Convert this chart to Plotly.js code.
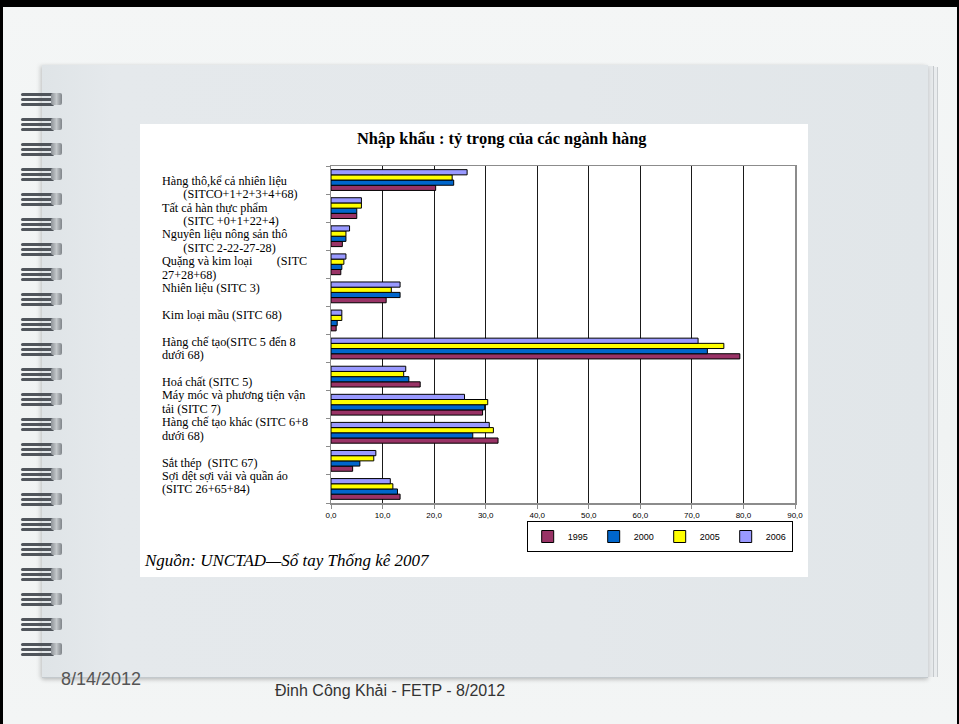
<!DOCTYPE html>
<html>
<head>
<meta charset="utf-8">
<script src="https://cdn.plot.ly/plotly-3.0.1.min.js"></script>
<style>
  html, body { margin:0; padding:0; }
  body { width:959px; height:724px; position:relative; overflow:hidden;
         background: linear-gradient(180deg, #f4f6f6 0%, #f0f3f3 60%, #f3f5f5 100%); }
  .bt { position:absolute; left:0; top:0; width:959px; height:7px; background:#000; }
  .bl { position:absolute; left:0; top:0; width:3px; height:724px; background:#000; }
  .br { position:absolute; right:0; top:0; width:2px; height:724px; background:#000; }
  .stack1 { position:absolute; left:44px; top:67px; width:893px; height:610px; background:#e9ecee;
            border-right:1px solid #c9cdd0; }
  .stack2 { position:absolute; left:44px; top:66px; width:889px; height:611px; background:#e6e9eb;
            border-right:1px solid #c5c9cc; }
  .page { position:absolute; left:42px; top:65px; width:886px; height:612px;
          background: linear-gradient(90deg, #dfe4e7 0%, #e5e9ec 8%, #e4e8eb 60%, #e1e6e9 100%);
          box-shadow: 0 2px 4px rgba(0,0,0,0.18), -3px 0 4px rgba(0,0,0,0.08); border-bottom:1px solid #c3c9cd; }
  .spiral { position:absolute; left:21px; width:42px; height:14px; }
  .spiral .c { position:absolute; left:0; width:33px; height:3px; border-radius:2px; background:#50555b; }
  .spiral .e { position:absolute; left:30px; top:1px; width:11px; height:12px; border-radius:2px;
               background: linear-gradient(90deg,#8d9297,#c4c8cb,#7f8489); }
  .date { position:absolute; left:61px; top:669px; font-family:"Liberation Sans", Arial, sans-serif;
          font-size:18px; color:#555; }
  .foot { position:absolute; left:275px; top:682px; font-family:"Liberation Sans", Arial, sans-serif;
          font-size:16px; color:#333; }
  #chart { position:absolute; left:140px; top:124px; width:668px; height:453px; }
</style>
</head>
<body>
<div class="bt"></div><div class="bl"></div><div class="br"></div>
<div class="stack1"></div><div class="stack2"></div>
<div class="page"></div>
<div id="spirals"></div>
<div class="date">8/14/2012</div>
<div class="foot">Đinh Công Khải - FETP - 8/2012</div>
<div id="chart"></div>
<script>
// ---------- DATA ----------
const categories = [
  "Hàng thô,kể cả nhiên liệu (SITCO+1+2+3+4+68)",
  "Tất cả hàn thực phẩm (SITC +0+1+22+4)",
  "Nguyên liệu nông sản thô (SITC 2-22-27-28)",
  "Quặng và kim loại (SITC 27+28+68)",
  "Nhiên liệu (SITC 3)",
  "Kim loại mầu (SITC 68)",
  "Hàng chế tạo(SITC 5 đến 8 dưới 68)",
  "Hoá chất (SITC 5)",
  "Máy móc và phương tiện vận tải (SITC 7)",
  "Hàng chế tạo khác (SITC 6+8 dưới 68)",
  "Sắt thép (SITC 67)",
  "Sợi dệt sợi vải và quần áo (SITC 26+65+84)"
];
const years = ["1995", "2000", "2005", "2006"];
const v1995 = [20.3, 5.0, 2.2, 1.9, 10.7, 1.0, 79.3, 17.3, 29.4, 32.4, 4.2, 13.4];
const v2000 = [23.8, 5.0, 2.9, 2.1, 13.4, 1.2, 73.0, 15.1, 29.8, 27.5, 5.6, 12.9];
const v2005 = [23.5, 5.9, 2.9, 2.5, 11.7, 2.1, 76.2, 14.1, 30.4, 31.5, 8.3, 12.0];
const v2006 = [26.4, 5.9, 3.6, 2.9, 13.4, 2.1, 71.2, 14.5, 25.9, 30.7, 8.7, 11.5];
const xTickVals = [0, 10, 20, 30, 40, 50, 60, 70, 80, 90];
const xTickText = ["0,0", "10,0", "20,0", "30,0", "40,0", "50,0", "60,0", "70,0", "80,0", "90,0"];
const NB = "\u00a0";
// category label block, as laid out in the source text box (blank lines kept)
const labelLines = [
  "Hàng thô,kể cả nhiên liệu",
  NB.repeat(7) + "(SITCO+1+2+3+4+68)",
  "Tất cả hàn thực phẩm",
  NB.repeat(7) + "(SITC +0+1+22+4)",
  "Nguyên liệu nông sản thô",
  NB.repeat(7) + "(SITC 2-22-27-28)",
  "Quặng và kim loại" + NB.repeat(8) + "(SITC",
  "27+28+68)",
  "Nhiên liệu (SITC 3)",
  "",
  "Kim loại mầu (SITC 68)",
  "",
  "Hàng chế tạo(SITC 5 đến 8",
  "dưới 68)",
  "",
  "Hoá chất (SITC 5)",
  "Máy móc và phương tiện vận",
  "tải (SITC 7)",
  "Hàng chế tạo khác (SITC 6+8",
  "dưới 68)",
  "",
  "Sắt thép" + NB + NB + "(SITC 67)",
  "Sợi dệt sợi vải và quần áo",
  "(SITC 26+65+84)"
];
const title = "Nhập khẩu : tỷ trọng của các ngành hàng";
const source = "Nguồn: UNCTAD—Sổ tay Thống kê 2007";
const colors = ["#993366", "#0066cc", "#ffff00", "#9999ff"];

// ---------- decorations: spirals ----------
(function(){
  const host = document.getElementById('spirals');
  for (let i = 0; i < 23; i++) {
    const s = document.createElement('div');
    s.className = 'spiral';
    s.style.top = (92 + i * 25) + 'px';
    s.innerHTML = '<div class="c" style="top:1px"></div><div class="c" style="top:6px"></div><div class="c" style="top:11px"></div><div class="e"></div>';
    host.appendChild(s);
  }
})();

// ---------- chart ----------
const series = [v1995, v2000, v2005, v2006];
const traces = series.map((vals, i) => ({
  type: 'bar', orientation: 'h', name: years[i],
  x: vals, y: categories,
  marker: { color: colors[i], line: { color: '#000', width: 1 } },
  hoverinfo: 'x+name'
}));

const W = 668, H = 453;
const M = { l: 191, r: 13, t: 42, b: 74 };
const plotH = H - M.t - M.b, plotW = W - M.l - M.r;
const lineStep = 13.42;      // px between label lines
const firstLineY = 56.7;     // px from top of chart box
const labelX = 19.5;         // px from left of chart box

const annotations = labelLines.map((t, i) => ({
  text: t, xref: 'paper', yref: 'paper',
  x: (labelX - M.l) / plotW,
  y: 1 - (firstLineY + i * lineStep - M.t) / plotH,
  xanchor: 'left', yanchor: 'middle', showarrow: false, align: 'left',
  font: { family: 'Liberation Serif, Times New Roman, serif', size: 12.2, color: '#000' }
})).filter(a => a.text !== "");

annotations.push({
  text: '<i>' + source + '</i>', xref: 'paper', yref: 'paper',
  x: (2 - M.l) / plotW, y: 1 - (436 - M.t) / plotH,
  xanchor: 'left', yanchor: 'middle', showarrow: false,
  font: { family: 'Liberation Serif, Times New Roman, serif', size: 17, color: '#000' }
});

const layout = {
  width: W, height: H, margin: M,
  paper_bgcolor: '#ffffff', plot_bgcolor: '#ffffff',
  title: { text: '<b>' + title + '</b>', xref: 'paper', x: 0.368, xanchor: 'center',
           yref: 'container', y: 1 - 14.5 / H, yanchor: 'middle',
           font: { family: 'Liberation Serif, Times New Roman, serif', size: 16.4, color: '#000' } },
  barmode: 'group', bargap: 0.26, bargroupgap: 0,
  showlegend: true,
  legend: { orientation: 'h', x: (526.7 - 140 - M.l) / plotW, xanchor: 'left',
            y: 1 - (521 - 124 - M.t) / plotH, yanchor: 'top',
            bordercolor: '#000', borderwidth: 1, bgcolor: '#fff',
            font: { family: 'Liberation Sans, Arial, sans-serif', size: 9, color: '#000' },
            itemwidth: 30, entrywidth: 21, entrywidthmode: 'pixels', tracegroupgap: 0 },
  xaxis: { range: [0, 90], tickvals: xTickVals, ticktext: xTickText,
           showgrid: true, gridcolor: '#1a1a1a', gridwidth: 1, zeroline: false,
           showline: true, linecolor: '#8c8c8c', linewidth: 1.5, mirror: true,
           ticks: 'outside', ticklen: 4, tickcolor: '#8c8c8c',
           tickfont: { family: 'Liberation Sans, Arial, sans-serif', size: 8, color: '#000' },
           fixedrange: true },
  yaxis: { type: 'category', categoryorder: 'array', categoryarray: categories.slice().reverse(),
           showticklabels: false, showgrid: false, zeroline: false,
           showline: true, linecolor: '#8c8c8c', linewidth: 1.5, mirror: true,
           ticks: 'outside', tickson: 'boundaries', ticklen: 4, tickcolor: '#8c8c8c',
           fixedrange: true },
  annotations: annotations
};

Plotly.newPlot('chart', traces, layout, { displayModeBar: false, staticPlot: true });
</script>
</body>
</html>
